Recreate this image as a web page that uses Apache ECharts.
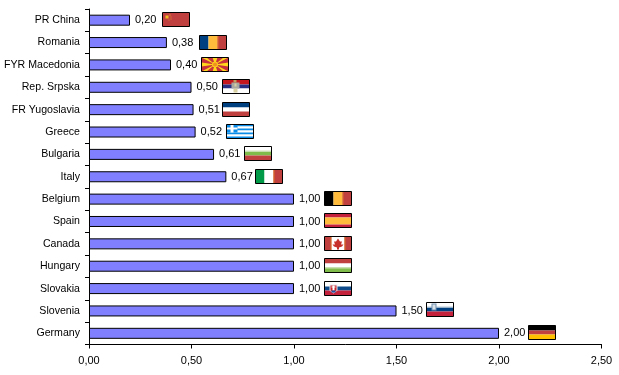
<!DOCTYPE html>
<html>
<head>
<meta charset="utf-8">
<style>html,body{margin:0;padding:0;background:#fff}#c{width:619px;height:375px}</style>
<script src="https://cdn.jsdelivr.net/npm/echarts@6/dist/echarts.min.js"></script>
</head>
<body>
<div id="c"></div>
<script>
const categories = ['PR China','Romania','FYR Macedonia','Rep. Srpska','FR Yugoslavia','Greece','Bulgaria','Italy','Belgium','Spain','Canada','Hungary','Slovakia','Slovenia','Germany'];
const values = [0.20,0.38,0.40,0.50,0.51,0.52,0.61,0.67,1.00,1.00,1.00,1.00,1.00,1.50,2.00];
const xTicks = {min:0,max:2.5,interval:0.5};

// Flags: stripe direction, stripe colours and weights, keyed by category
const RED='#C04040', BLUE='#003F80', GOLD='#FFBC3C', GREEN='#80BC4C', W='#FFFFFF', CRIM='#C4213C';
const flagStripes = {
 'PR China':['h',[[RED,1]]],
 'Romania':['v',[[BLUE,1],[GOLD,1],[RED,1]]],
 'FYR Macedonia':['h',[['#C8323C',1]]],
 'Rep. Srpska':['h',[['#C4161C',1],['#2A2E82',1],[W,1]]],
 'FR Yugoslavia':['h',[[BLUE,1],[W,1],[RED,1]]],
 'Greece':['h',[['#0A8CE8',1],[W,1],['#0A8CE8',1],[W,1],['#0A8CE8',1],[W,1],['#0A8CE8',1]]],
 'Bulgaria':['h',[[W,1],[GREEN,1],[RED,1]]],
 'Italy':['v',[['#009A49',1],[W,1],[RED,1]]],
 'Belgium':['v',[['#000000',1],[GOLD,1],[RED,1]]],
 'Spain':['h',[[CRIM,1],[GOLD,2],[CRIM,1]]],
 'Canada':['v',[[RED,1],[W,2],[RED,1]]],
 'Hungary':['h',[[RED,1],[W,1],[GREEN,1]]],
 'Slovakia':['h',[[W,1],['#0F4A8A',1],[CRIM,1]]],
 'Slovenia':['h',[[W,1],[BLUE,1],[CRIM,1]]],
 'Germany':['h',[['#000000',1],[RED,1],['#FFC000',1]]]
};
// Hand placement of each pasted flag relative to its bar end (picture pixels)
const flagNudge = [32,32,30,30.5,28.5,30.5,30,28.5,30,30,30,30,30,29.5,29];
const flagRowShift = [-1,-1,-1,-1,-1,-1,-1,-1,-1,-1,-1,-1,-1,-2,-1];

function poly(points,fill){return {type:'polygon',shape:{points},style:{fill},silent:true};}
function box(x,y,w,h,fill){return {type:'rect',shape:{x,y,width:w,height:h},style:{fill},silent:true};}

function emblem(name,x,y,w,h){
  const o=[];
  if(name==='PR China'){
    o.push(box(x+3,y+3,3,3,'#F0C020'),box(x+7,y+2,1,1,'#F0C020'),box(x+8,y+4,1,1,'#E09030'),box(x+8,y+6,1,1,'#E09030'),box(x+6,y+7,1,1,'#E09030'));
  } else if(name==='FYR Macedonia'){
    const cx=x+w/2,cy=y+h/2,Y='#FFD81C';
    const rays=[[x,y,x+5,y],[x+w-5,y,x+w,y],[x,y+h,x+5,y+h],[x+w-5,y+h,x+w,y+h],[x+w/2-2.5,y,x+w/2+2.5,y],[x+w/2-2.5,y+h,x+w/2+2.5,y+h],[x,y+h/2-2,x,y+h/2+2],[x+w,y+h/2-2,x+w,y+h/2+2]];
    rays.forEach(r=>o.push(poly([[cx,cy],[r[0],r[1]],[r[2],r[3]]],Y)));
    o.push({type:'circle',shape:{cx,cy,r:2.6},style:{fill:'#F09020',stroke:'#FFD81C',lineWidth:1},silent:true});
  } else if(name==='Rep. Srpska'){
    o.push(box(x+11,y,3,3,'#C0A060'),box(x+9,y+3,8,6,'#A8A8A0'),box(x+11,y+9,4,4,'#D8D0A0'),box(x+12,y+4,2,3,'#D8D0A0'));
  } else if(name==='Greece'){
    o.push(box(x,y,11,8,'#0A8CE8'),box(x+4,y,3,8,W),box(x,y+3,11,2,W));
  } else if(name==='Canada'){
    const c=x+w/2,t=y+2;
    o.push(poly([[c,t],[c+2,t+3],[c+4,t+3],[c+3,t+6],[c+5.5,t+6],[c+4,t+8],[c+1,t+9],[c+1,t+11],[c-1,t+11],[c-1,t+9],[c-4,t+8],[c-5.5,t+6],[c-3,t+6],[c-4,t+3],[c-2,t+3]],'#C8322C'));
    o.push(box(x+6,y,1,h,'#D87020'),box(x+w-7,y,1,h,'#D87020'));
  } else if(name==='Slovakia'){
    o.push(poly([[x+5,y+3],[x+13,y+3],[x+13,y+9],[x+9,y+12],[x+5,y+9]],'#E8E8F0'),poly([[x+6,y+4],[x+12,y+4],[x+12,y+9],[x+9,y+11],[x+6,y+9]],'#C8242C'),box(x+8,y+4,2,5,W),box(x+7,y+5,4,1,W),box(x+7,y+9,4,2,'#2050A0'));
  } else if(name==='Slovenia'){
    o.push(box(x,y+4,w,1,'#B0C4D4'),box(x+5,y+1,5,7,'#7090B0'),box(x+6,y+2,3,5,'#D8E0E8'));
  } else if(name==='Italy'||name==='Romania'||name==='Belgium'){
    const t=Math.round(w/3);
    o.push(box(x+2*t,y,1,h,'#E07020'));
  } else if(name==='Bulgaria'||name==='Hungary'){
    o.push(box(x,y+(name==='Bulgaria'?4:9),w,1,'#D0E0B8'));
  }
  return o;
}

function renderFlag(params,api){
  const i=params.dataIndex;
  const name=categories[i];
  const p=api.coord([api.value(0),i]);
  const fw=27,fh=14;
  const x=Math.round(p[0]+flagNudge[i])+0.5;
  const y=Math.round(p[1]-fh/2+flagRowShift[i])+0.5;
  const [dir,stripes]=flagStripes[name];
  const total=stripes.reduce((s,a)=>s+a[1],0);
  const kids=[];
  let acc=0;
  stripes.forEach(([col,wt])=>{
    if(dir==='h'){
      const a=Math.round(fh*acc/total),b=Math.round(fh*(acc+wt)/total);
      kids.push(box(x,y+a,fw,b-a,col));
    }else{
      const a=Math.round(fw*acc/total),b=Math.round(fw*(acc+wt)/total);
      kids.push(box(x+a,y,b-a,fh,col));
    }
    acc+=wt;
  });
  emblem(name,x,y,fw,fh).forEach(k=>kids.push(k));
  kids.push({type:'rect',shape:{x,y,width:fw,height:fh},style:{fill:'none',stroke:'#000',lineWidth:1},silent:true});
  return {type:'group',children:kids};
}

const font='"Liberation Sans",Arial,sans-serif';
const chart=echarts.init(document.getElementById('c'),null,{renderer:'canvas'});
chart.setOption({
  animation:false,
  backgroundColor:'#fff',
  grid:{left:89,top:9,width:512.5,height:335.5,containLabel:false,outerBoundsMode:'none'},
  xAxis:{type:'value',min:xTicks.min,max:xTicks.max,interval:xTicks.interval,
    axisLine:{show:true,lineStyle:{color:'#000',width:1}},
    axisTick:{show:true,length:4,lineStyle:{color:'#000',width:1}},
    splitLine:{show:false},
    axisLabel:{color:'#000',fontFamily:font,fontSize:11,margin:11,hideOverlap:false,
      formatter:v=>v.toFixed(2).replace('.',',')}},
  yAxis:{type:'category',inverse:true,data:categories,
    axisLine:{show:true,lineStyle:{color:'#000',width:1}},
    axisTick:{show:true,length:4,alignWithLabel:false,lineStyle:{color:'#000',width:1}},
    axisLabel:{color:'#000',fontFamily:font,fontSize:10.6,margin:9,interval:0}},
  series:[
    {type:'bar',data:values,barWidth:11,
     itemStyle:{color:'#8080FF',borderColor:'#000',borderWidth:1},
     label:{show:true,position:'right',distance:5,color:'#000',fontFamily:font,fontSize:11,
       formatter:p=>p.value.toFixed(2).replace('.',',')}},
    {type:'custom',data:values.map((v,i)=>[v,i]),renderItem:renderFlag,clip:false,silent:true,
     encode:{x:0,y:1},z:5}
  ]
});
</script>
</body>
</html>
